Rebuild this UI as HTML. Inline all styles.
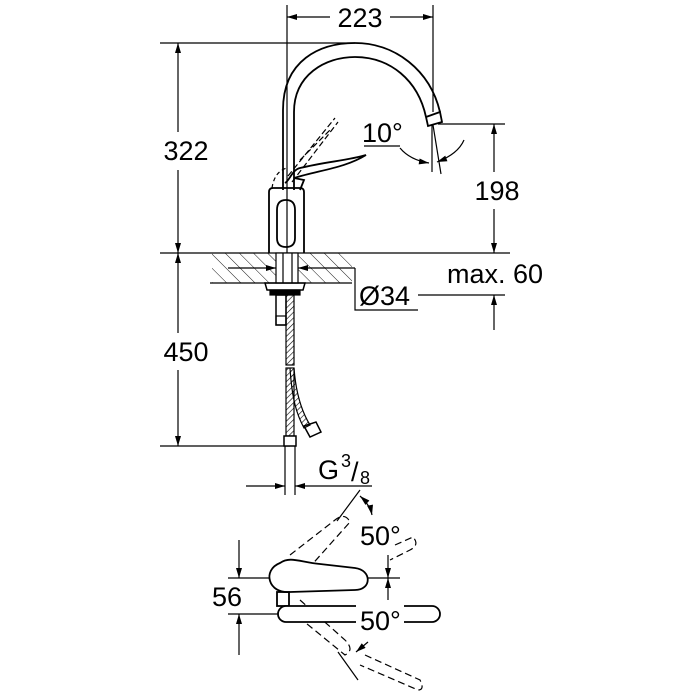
<!DOCTYPE html>
<html><head><meta charset="utf-8"><style>
html,body{margin:0;padding:0;background:#fff;}
svg{display:block}
text{font-family:"Liberation Sans",sans-serif;fill:#000}
</style></head><body>
<svg width="700" height="700" viewBox="0 0 700 700" xmlns="http://www.w3.org/2000/svg">
<defs>
<marker id="a" viewBox="0 0 10 6" refX="10" refY="3" markerWidth="11" markerHeight="6" orient="auto-start-reverse" markerUnits="userSpaceOnUse"><path d="M0,0 L10,3 L0,6z" fill="#000"/></marker>
<pattern id="h" width="10" height="10" patternUnits="userSpaceOnUse" patternTransform="rotate(-45)"><line x1="0" y1="0" x2="0" y2="10" stroke="#000" stroke-width="0.9"/></pattern>
<pattern id="b" width="4" height="4" patternUnits="userSpaceOnUse" patternTransform="rotate(45)"><line x1="0" y1="0" x2="0" y2="4" stroke="#000" stroke-width="1.2"/></pattern>
</defs>
<g stroke="#000" stroke-width="1.2" fill="none">
<line x1="287" y1="5" x2="287" y2="253"/>
<line x1="433" y1="5" x2="433" y2="112"/>
<line x1="287" y1="17" x2="330" y2="17" marker-start="url(#a)"/>
<line x1="390" y1="17" x2="433" y2="17" marker-end="url(#a)"/>
<line x1="160" y1="43" x2="355" y2="43"/>
<line x1="178" y1="43" x2="178" y2="132" marker-start="url(#a)"/>
<line x1="178" y1="170" x2="178" y2="253" marker-end="url(#a)"/>
<line x1="160" y1="253" x2="510" y2="253"/>
<line x1="178" y1="253" x2="178" y2="333" marker-start="url(#a)"/>
<line x1="178" y1="370" x2="178" y2="446" marker-end="url(#a)"/>
<line x1="160" y1="446" x2="290" y2="446"/>
<line x1="438" y1="124" x2="505" y2="124"/>
<line x1="494" y1="124" x2="494" y2="172" marker-start="url(#a)"/>
<line x1="494" y1="208" x2="494" y2="253" marker-end="url(#a)"/>
<line x1="418" y1="295" x2="505" y2="295"/>
<line x1="494" y1="330" x2="494" y2="295" marker-end="url(#a)"/>
<rect x="212" y="253" width="140" height="30" fill="url(#h)" stroke="none"/>
<line x1="210" y1="283" x2="352" y2="283"/>
<rect x="276" y="253" width="22" height="30" fill="#fff"/>
<line x1="283" y1="253" x2="283" y2="283"/><line x1="292" y1="253" x2="292" y2="283"/>
<line x1="228" y1="268" x2="276" y2="268" marker-end="url(#a)"/>
<line x1="355" y1="268" x2="298" y2="268" marker-end="url(#a)"/>
<polyline points="355,268 355,310 418,310"/>
<path d="M265,283 L305,283 L303,290 L267,290 Z" stroke-width="1.5"/>
<rect x="270" y="290" width="30" height="5" fill="#000"/>
<rect x="276" y="295" width="10" height="30" stroke-width="1.5"/>
<rect x="276" y="316" width="10" height="9"/>
<rect x="286" y="295" width="8" height="70" fill="url(#b)"/>
<rect x="286" y="368" width="8" height="68" fill="url(#b)"/>
<path d="M294,368 C296,395 302,412 310,425 L304,428 C297,415 292,400 290,368" fill="url(#b)"/>
<rect x="284" y="436" width="12" height="10" fill="#fff" stroke-width="1.5"/>
<path d="M304,426 L316,422 L321,432 L310,437 Z" stroke-width="1.5"/>
<line x1="285" y1="446" x2="285" y2="495"/><line x1="295" y1="446" x2="295" y2="495"/>
<line x1="246" y1="486" x2="285" y2="486" marker-end="url(#a)"/>
<line x1="372" y1="486" x2="295" y2="486" marker-end="url(#a)"/>
<g stroke-width="1.8">
<path d="M269,253 L269,192 Q269,188 273,188 L300,188 Q304,188 304,192 L304,253"/>
<path d="M277,210 Q277,200 286,200 Q295,200 295,210 L295,238 Q295,247 286,247 Q277,247 277,238 Z"/>
<path d="M283,190 L283,110 C283,60 320,43 355,43 C395,43 430,70 440,112"/>
<path d="M294,190 L294,112 C294,75 325,57 355,57 C390,57 418,80 426,117"/>
<path d="M426,117 L440,112 L442,122 L428,126 Z"/>
<path d="M294,178 C320,170 345,168 366,155 C350,160 325,162 300,168 C292,170 290,180 285,183"/>
<path d="M294,178 L304,180 L300,190"/>
</g>
<path d="M272,188 C274,175 280,170 287,168" stroke-dasharray="4,3"/>
<path d="M288,176 L335,118 M292,182 L338,122 M300,160 L330,130" stroke-dasharray="6,3"/>
<line x1="432" y1="125" x2="432" y2="172"/>
<line x1="433" y1="125" x2="441" y2="174"/>
<path d="M400,148 Q410,160 429,163" marker-end="url(#a)"/>
<path d="M464,140 Q458,154 437,162" marker-end="url(#a)"/>
<line x1="364" y1="146" x2="400" y2="146"/>
<line x1="228" y1="578" x2="400" y2="578"/>
<line x1="228" y1="614" x2="290" y2="614"/>
<line x1="239" y1="540" x2="239" y2="578" marker-end="url(#a)"/>
<line x1="239" y1="655" x2="239" y2="614" marker-end="url(#a)"/>
<g stroke-dasharray="7,4">
<path d="M290,555 L335,520 Q345,512 350,522 L300,578"/>
<path d="M300,600 L345,640 Q355,650 345,655 L290,610" />
<path d="M395,545 L413,537 Q420,545 410,550 L390,560"/>
<path d="M365,655 L420,680 Q425,690 418,690 L360,665"/>
</g>
<g stroke-width="1.8">
<path d="M280,563 C290,556 300,562 320,564 L355,568 C372,570 372,590 355,590 L290,592 C268,594 262,570 280,563 Z" fill="#fff"/>
<rect x="277" y="592" width="12" height="14"/>
<rect x="278" y="606" width="162" height="16" rx="8" fill="#fff"/>
</g>
<rect x="356" y="602" width="48" height="28" fill="#fff" stroke="none"/>
<line x1="337" y1="521" x2="360" y2="490"/>
<line x1="338" y1="652" x2="358" y2="680"/>
<path d="M360,496 Q370,505 372,515" marker-end="url(#a)" marker-start="url(#a)"/>
<line x1="388" y1="555" x2="388" y2="578" marker-end="url(#a)"/>
<line x1="388" y1="600" x2="388" y2="578" marker-end="url(#a)"/>
<path d="M368,642 L356,652" marker-end="url(#a)"/>
</g>
<g font-size="27">
<rect x="330" y="3" width="60" height="28" fill="#fff"/>
<text x="360" y="27" text-anchor="middle">223</text>
<rect x="155" y="133" width="62" height="36" fill="#fff"/>
<text x="186" y="160" text-anchor="middle">322</text>
<rect x="155" y="334" width="62" height="36" fill="#fff"/>
<text x="186" y="361" text-anchor="middle">450</text>
<rect x="468" y="173" width="58" height="36" fill="#fff"/>
<text x="497" y="200" text-anchor="middle">198</text>
<text x="447" y="283">max. 60</text>
<text x="359" y="305">Ø34</text>
<text x="362" y="142">10°</text>
<text x="318" y="479">G</text>
<text x="341" y="467" font-size="18">3</text>
<text x="351" y="481">/</text>
<text x="360" y="484" font-size="18">8</text>
<text x="227" y="606" text-anchor="middle">56</text>
<text x="360" y="545">50°</text>
<text x="360" y="630">50°</text>
</g>
</svg>
</body></html>
